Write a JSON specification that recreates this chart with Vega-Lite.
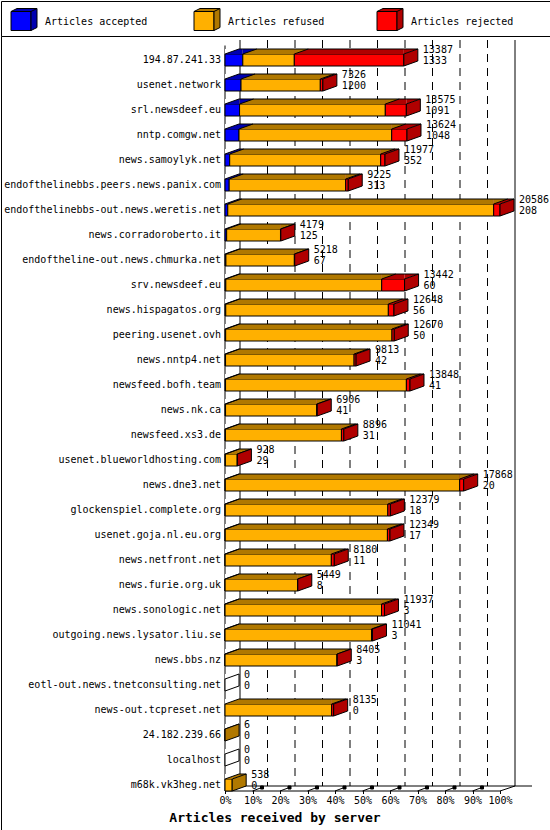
{
  "$schema": "https://vega.github.io/schema/vega-lite/v6.json",
  "background": "white",
  "padding": 0,
  "spacing": 0,
  "bounds": "flush",
  "config": {
    "font": "DejaVu Sans Mono",
    "view": {"stroke": "black", "strokeWidth": 1, "fill": "white"},
    "text": {"font": "DejaVu Sans Mono", "fontSize": 10, "color": "black"}
  },
  "datasets": {
    "rows": [
      {"server": "194.87.241.33", "total": 13387, "accepted": 1333, "refused": 3855, "rejected": 8199},
      {"server": "usenet.network", "total": 7326, "accepted": 1200, "refused": 5934, "rejected": 192},
      {"server": "srl.newsdeef.eu", "total": 13575, "accepted": 1091, "refused": 10909, "rejected": 1575},
      {"server": "nntp.comgw.net", "total": 13624, "accepted": 1048, "refused": 11431, "rejected": 1145},
      {"server": "news.samoylyk.net", "total": 11977, "accepted": 352, "refused": 11303, "rejected": 322},
      {"server": "endofthelinebbs.peers.news.panix.com", "total": 9225, "accepted": 313, "refused": 8722, "rejected": 190},
      {"server": "endofthelinebbs-out.news.weretis.net", "total": 20586, "accepted": 208, "refused": 19905, "rejected": 473},
      {"server": "news.corradoroberto.it", "total": 4179, "accepted": 125, "refused": 4029, "rejected": 25},
      {"server": "endoftheline-out.news.chmurka.net", "total": 5218, "accepted": 67, "refused": 5126, "rejected": 25},
      {"server": "srv.newsdeef.eu", "total": 13442, "accepted": 60, "refused": 11670, "rejected": 1712},
      {"server": "news.hispagatos.org", "total": 12648, "accepted": 56, "refused": 12171, "rejected": 421},
      {"server": "peering.usenet.ovh", "total": 12670, "accepted": 50, "refused": 12450, "rejected": 170},
      {"server": "news.nntp4.net", "total": 9813, "accepted": 42, "refused": 9621, "rejected": 150},
      {"server": "newsfeed.bofh.team", "total": 13848, "accepted": 41, "refused": 13537, "rejected": 270},
      {"server": "news.nk.ca", "total": 6906, "accepted": 41, "refused": 6825, "rejected": 40},
      {"server": "newsfeed.xs3.de", "total": 8896, "accepted": 31, "refused": 8685, "rejected": 180},
      {"server": "usenet.blueworldhosting.com", "total": 928, "accepted": 29, "refused": 889, "rejected": 10},
      {"server": "news.dne3.net", "total": 17868, "accepted": 20, "refused": 17548, "rejected": 300},
      {"server": "glockenspiel.complete.org", "total": 12379, "accepted": 18, "refused": 12171, "rejected": 190},
      {"server": "usenet.goja.nl.eu.org", "total": 12349, "accepted": 17, "refused": 12142, "rejected": 190},
      {"server": "news.netfront.net", "total": 8180, "accepted": 11, "refused": 7949, "rejected": 220},
      {"server": "news.furie.org.uk", "total": 5449, "accepted": 8, "refused": 5421, "rejected": 20},
      {"server": "news.sonologic.net", "total": 11937, "accepted": 3, "refused": 11714, "rejected": 220},
      {"server": "outgoing.news.lysator.liu.se", "total": 11041, "accepted": 3, "refused": 10963, "rejected": 75},
      {"server": "news.bbs.nz", "total": 8405, "accepted": 3, "refused": 8382, "rejected": 20},
      {"server": "eotl-out.news.tnetconsulting.net", "total": 0, "accepted": 0, "refused": 0, "rejected": 0},
      {"server": "news-out.tcpreset.net", "total": 8135, "accepted": 0, "refused": 7985, "rejected": 150},
      {"server": "24.182.239.66", "total": 6, "accepted": 0, "refused": 6, "rejected": 0},
      {"server": "localhost", "total": 0, "accepted": 0, "refused": 0, "rejected": 0},
      {"server": "m68k.vk3heg.net", "total": 538, "accepted": 0, "refused": 538, "rejected": 0}
    ],
    "legend": [
      {"key": "accepted", "label": "Articles accepted"},
      {"key": "refused", "label": "Articles refused"},
      {"key": "rejected", "label": "Articles rejected"}
    ],
    "ticks": [
      {"v": 0}, {"v": 2058.6}, {"v": 4117.2}, {"v": 6175.8}, {"v": 8234.4}, {"v": 10293},
      {"v": 12351.6}, {"v": 14410.2}, {"v": 16468.8}, {"v": 18527.4}, {"v": 20586}
    ],
    "one": [{"n": 1}]
  },
  "vconcat": [
    {
      "width": 549,
      "height": 35,
      "data": {"name": "legend"},
      "resolve": {"scale": {"fill": "independent"}},
      "layer": [
        {
          "mark": {"type": "point", "shape": "M0,-7h20v19h-20Z", "size": 4, "filled": true, "opacity": 1, "stroke": "black", "strokeWidth": 1, "xOffset": 10},
          "encoding": {
            "x": {"field": "key", "type": "nominal", "bandPosition": 0, "axis": null,
                  "scale": {"type": "band", "domain": ["accepted", "refused", "rejected"], "paddingInner": 0, "paddingOuter": 0}},
            "fill": {"field": "key", "type": "nominal", "legend": null,
                     "scale": {"domain": ["accepted", "refused", "rejected"], "range": ["#0000FF", "#FFB000", "#FF0000"]}}}
        },
        {
          "mark": {"type": "point", "shape": "M0,-7L6,-10L26,-10L26,9L20,12L20,-7ZM20,-7L26,-10", "size": 4, "filled": true, "opacity": 1, "stroke": "black", "strokeWidth": 1, "xOffset": 10},
          "encoding": {
            "x": {"field": "key", "type": "nominal", "bandPosition": 0, "axis": null,
                  "scale": {"type": "band", "domain": ["accepted", "refused", "rejected"], "paddingInner": 0, "paddingOuter": 0}},
            "fill": {"field": "key", "type": "nominal", "legend": null,
                     "scale": {"domain": ["accepted", "refused", "rejected"], "range": ["#0000B0", "#B07800", "#B00000"]}}}
        },
        {
          "mark": {"type": "text", "align": "left", "baseline": "middle", "xOffset": 44, "yOffset": 3, "font": "DejaVu Sans Mono", "fontSize": 10, "color": "black"},
          "encoding": {
            "x": {"field": "key", "type": "nominal", "bandPosition": 0, "axis": null,
                  "scale": {"type": "band", "domain": ["accepted", "refused", "rejected"], "paddingInner": 0, "paddingOuter": 0}},
            "text": {"field": "label", "type": "nominal"}}
        }
      ]
    },
    {
      "width": 549,
      "height": 794,
      "data": {"name": "rows"},
      "encoding": {
        "y": {"field": "server", "type": "nominal",
              "scale": {"type": "band", "range": [11.5, 761.5], "paddingInner": 0, "paddingOuter": 0,
                        "domain": ["194.87.241.33", "usenet.network", "srl.newsdeef.eu", "nntp.comgw.net", "news.samoylyk.net", "endofthelinebbs.peers.news.panix.com", "endofthelinebbs-out.news.weretis.net", "news.corradoroberto.it", "endoftheline-out.news.chmurka.net", "srv.newsdeef.eu", "news.hispagatos.org", "peering.usenet.ovh", "news.nntp4.net", "newsfeed.bofh.team", "news.nk.ca", "newsfeed.xs3.de", "usenet.blueworldhosting.com", "news.dne3.net", "glockenspiel.complete.org", "usenet.goja.nl.eu.org", "news.netfront.net", "news.furie.org.uk", "news.sonologic.net", "outgoing.news.lysator.liu.se", "news.bbs.nz", "eotl-out.news.tnetconsulting.net", "news-out.tcpreset.net", "24.182.239.66", "localhost", "m68k.vk3heg.net"]},
              "axis": {"orient": "left", "offset": -223.5, "domain": false, "ticks": false, "grid": false, "labelPadding": 4,
                       "labelFont": "DejaVu Sans Mono", "labelFontSize": 10, "labelColor": "black", "labelLimit": 400, "title": null}}
      },
      "resolve": {"scale": {"fill": "independent"}},
      "layer": [
        {
          "data": {"name": "ticks"},
          "transform": [{"filter": "datum.v == 0 || datum.v == 20586"}],
          "mark": {"type": "point", "shape": "M0,-20L0,726", "size": 4, "filled": false, "opacity": 1, "stroke": "black", "strokeWidth": 1, "xOffset": 15},
          "encoding": {
            "x": {"field": "v", "type": "quantitative", "scale": {"domain": [0, 20586], "range": [224, 499], "nice": false, "zero": false}},
            "y": {"datum": "194.87.241.33", "type": "nominal"}
          }
        },
        {
          "data": {"name": "ticks"},
          "transform": [{"filter": "datum.v > 0 && datum.v < 20586"}],
          "mark": {"type": "point", "shape": "M0,-20L0,726", "size": 4, "filled": false, "opacity": 1, "stroke": "black", "strokeWidth": 1, "strokeDash": [8, 6], "xOffset": 15},
          "encoding": {
            "x": {"field": "v", "type": "quantitative"},
            "y": {"datum": "194.87.241.33", "type": "nominal"}
          }
        },
        {
          "data": {"name": "one"},
          "mark": {"type": "point", "shape": "M0,1L292,1", "size": 4, "filled": false, "opacity": 1, "stroke": "black", "strokeWidth": 1, "xOffset": 15},
          "encoding": {
            "x": {"datum": 0, "type": "quantitative"},
            "y": {"datum": "m68k.vk3heg.net", "type": "nominal"}
          }
        },
        {
          "data": {"name": "ticks"},
          "transform": [{"filter": "datum.v > 0 && datum.v < 20586"}],
          "mark": {"type": "point", "shape": "M0,6L8,3M8,1h3v3h-3Z", "size": 4, "filled": true, "opacity": 1, "fill": "black", "stroke": "black", "strokeWidth": 1},
          "encoding": {
            "x": {"field": "v", "type": "quantitative"},
            "y": {"datum": "m68k.vk3heg.net", "type": "nominal"}
          }
        },
        {
          "data": {"name": "one"},
          "mark": {"type": "point", "shape": "M0,6L15,1", "size": 4, "filled": false, "opacity": 1, "stroke": "black", "strokeWidth": 1},
          "encoding": {
            "x": {"datum": 20586, "type": "quantitative"},
            "y": {"datum": "m68k.vk3heg.net", "type": "nominal"}
          }
        },
        {
          "data": {"name": "one"},
          "mark": {"type": "point", "shape": "M0,-14.5L0,731", "size": 4, "filled": false, "opacity": 1, "stroke": "black", "strokeWidth": 1},
          "encoding": {
            "x": {"datum": 0, "type": "quantitative"},
            "y": {"datum": "194.87.241.33", "type": "nominal"}
          }
        },
        {
          "transform": [
            {"fold": ["accepted", "refused", "rejected"], "as": ["key", "value"]},
            {"filter": "datum.value > 0"},
            {"stack": "value", "groupby": ["server"], "sort": [{"field": "key", "order": "ascending"}], "as": ["start", "end"]}
          ],
          "resolve": {"scale": {"fill": "independent"}},
          "layer": [
            {
              "mark": {"type": "bar", "height": 12, "stroke": "black", "strokeWidth": 1},
              "encoding": {
                "x": {"field": "start", "type": "quantitative",
                      "scale": {"domain": [0, 20586], "range": [224, 499], "nice": false, "zero": false},
                      "axis": {"orient": "bottom", "offset": -39.5,
                               "values": [0, 2058.6, 4117.2, 6175.8, 8234.4, 10293, 12351.6, 14410.2, 16468.8, 18527.4, 20586],
                               "labelExpr": "round(datum.value / 205.86) + '%'",
                               "tickSize": 3, "tickColor": "black", "domainColor": "black", "grid": false,
                               "labelFont": "DejaVu Sans Mono", "labelFontSize": 10, "labelColor": "black", "labelPadding": 2,
                               "labelFlush": false, "labelOverlap": false,
                               "title": "Articles received by server", "titleFont": "DejaVu Sans Mono", "titleFontSize": 13,
                               "titleFontWeight": "bold", "titleColor": "black", "titleX": 273.5, "titleY": 27,
                               "titleBaseline": "middle", "titleAlign": "center"}},
                "x2": {"field": "end"},
                "fill": {"field": "key", "type": "nominal", "legend": null,
                         "scale": {"domain": ["accepted", "refused", "rejected"], "range": ["#0000FF", "#FFB000", "#FF0000"]}}
              }
            },
            {
              "mark": {"type": "bar", "height": 5, "yOffset": -8.5},
              "encoding": {
                "x": {"field": "start", "type": "quantitative"},
                "x2": {"field": "end"},
                "fill": {"field": "key", "type": "nominal", "legend": null,
                         "scale": {"domain": ["accepted", "refused", "rejected"], "range": ["#0000B0", "#B07800", "#B00000"]}}
              }
            },
            {
              "mark": {"type": "point", "shape": "M0,-6L0,-11L14,-11Z", "size": 4, "filled": true, "opacity": 1, "strokeWidth": 0},
              "encoding": {
                "x": {"field": "end", "type": "quantitative"},
                "fill": {"field": "key", "type": "nominal", "legend": null,
                         "scale": {"domain": ["accepted", "refused", "rejected"], "range": ["#0000B0", "#B07800", "#B00000"]}},
                "order": {"field": "key", "type": "nominal", "sort": "descending"}
              }
            }
          ]
        },
        {
          "mark": {"type": "point", "shape": "M0,-6L0,-11L14,-11Z", "size": 4, "filled": true, "opacity": 1, "fill": "white", "strokeWidth": 0},
          "encoding": {"x": {"datum": 0, "type": "quantitative"}}
        },
        {
          "transform": [
            {"fold": ["accepted", "refused", "rejected"], "as": ["key", "value"]},
            {"filter": "datum.value > 0"},
            {"stack": "value", "groupby": ["server"], "sort": [{"field": "key", "order": "ascending"}], "as": ["start", "end"]}
          ],
          "resolve": {"scale": {"fill": "independent"}},
          "layer": [
            {
              "mark": {"type": "point", "shape": "M0,-6L14,-11", "size": 4, "filled": false, "opacity": 1, "stroke": "black", "strokeWidth": 1},
              "encoding": {"x": {"field": "start", "type": "quantitative"}}
            },
            {
              "transform": [{"filter": "datum.end == datum.total"}],
              "mark": {"type": "point", "shape": "M0,-6L14,-11L14,1L0,6Z", "size": 4, "filled": true, "opacity": 1, "stroke": "black", "strokeWidth": 1},
              "encoding": {
                "x": {"field": "end", "type": "quantitative"},
                "fill": {"field": "key", "type": "nominal", "legend": null,
                         "scale": {"domain": ["accepted", "refused", "rejected"], "range": ["#0000B0", "#B07800", "#B00000"]}}
              }
            }
          ]
        },
        {
          "mark": {"type": "rule", "color": "black", "strokeWidth": 1, "xOffset": 14, "x2Offset": 14, "yOffset": -11},
          "encoding": {
            "x": {"field": "total", "type": "quantitative"},
            "x2": {"datum": 0}
          }
        },
        {
          "transform": [{"filter": "datum.total == 0"}],
          "mark": {"type": "point", "shape": "M0,-6L14,-11L14,1L0,6Z", "size": 4, "filled": true, "opacity": 1, "fill": "white", "stroke": "black", "strokeWidth": 1},
          "encoding": {"x": {"datum": 0, "type": "quantitative"}}
        },
        {
          "mark": {"type": "text", "align": "left", "baseline": "middle", "xOffset": 19, "yOffset": -10, "font": "DejaVu Sans Mono", "fontSize": 10, "color": "black"},
          "encoding": {
            "x": {"field": "total", "type": "quantitative"},
            "text": {"field": "total", "type": "nominal"}
          }
        },
        {
          "mark": {"type": "text", "align": "left", "baseline": "middle", "xOffset": 19, "yOffset": 1, "font": "DejaVu Sans Mono", "fontSize": 10, "color": "black"},
          "encoding": {
            "x": {"field": "total", "type": "quantitative"},
            "text": {"field": "accepted", "type": "nominal"}
          }
        }
      ]
    }
  ]
}
